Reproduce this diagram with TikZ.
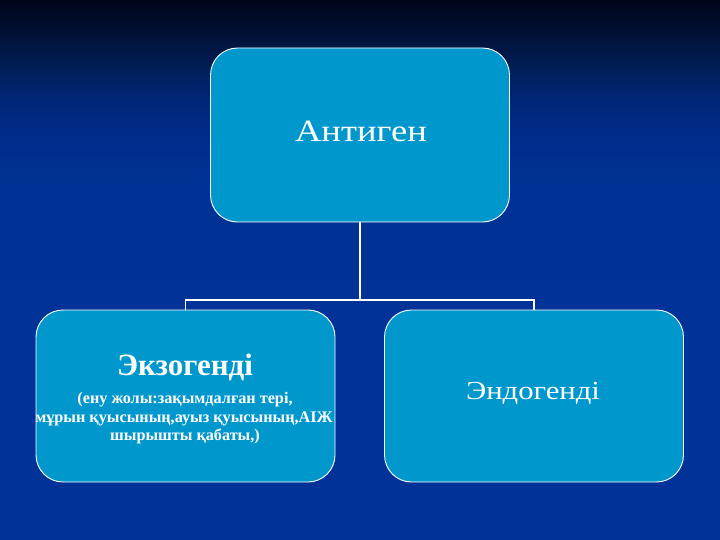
\documentclass[tikz,border=0pt]{standalone}
\usepackage{fontspec}
\setmainfont{Liberation Serif}
\newfontfamily\widefont[FakeStretch=1.18]{Liberation Serif}
\definecolor{boxfill}{RGB}{0,152,204}
\definecolor{bga}{RGB}{0,5,25}
\definecolor{bgb}{RGB}{0,15,50}
\definecolor{bgc}{RGB}{0,30,85}
\definecolor{bgd}{RGB}{0,38,120}
\definecolor{bge}{RGB}{0,45,140}
\definecolor{bgf}{RGB}{0,50,150}
\definecolor{bgg}{RGB}{0,50,152}
\pgfdeclareverticalshading{bgshade}{100bp}{color(0bp)=(bgg); color(25bp)=(bgg); color(57.4bp)=(bgf); color(62bp)=(bge); color(65.7bp)=(bgd); color(69bp)=(bgc); color(72.2bp)=(bgb); color(75bp)=(bga); color(100bp)=(bga)}
\begin{document}
\begin{tikzpicture}[x=1pt,y=-1pt,
  cbox/.style={draw=white, line width=0.9pt, fill=boxfill, rounded corners=27pt,
    minimum width=299pt, inner sep=0pt},
  label/.style={text=white, inner sep=0pt, anchor=base},
  link/.style={draw=white, line width=1.8pt}]
\useasboundingbox (0,0) rectangle (720,540);
\shade[shading=bgshade] (0,0) rectangle (720,540);
\node[cbox, minimum height=174pt] (top) at (360,135) {};
\node[cbox, minimum height=172pt] (exo) at (185.5,396) {};
\node[cbox, minimum height=172pt] (endo) at (534,396) {};
\node[label, font=\widefont\fontsize{31}{34}\selectfont] (toptxt) at (361,142) {Антиген};
\node[label, font=\widefont\fontsize{26}{30}\selectfont] (endotxt) at (533,399) {Эндогенді};
\node[label, font=\bfseries\fontsize{31}{34}\selectfont] (exotxt) at (185,375) {Экзогенді};
\node[label, font=\bfseries\fontsize{16.2}{18}\selectfont] (exo1) at (185,403) {(ену жолы:зақымдалған тері,};
\node[label, font=\bfseries\fontsize{16.2}{18}\selectfont] (exo2) at (184,422) {мұрын қуысының,ауыз қуысының,АІЖ};
\node[label, font=\bfseries\fontsize{16.2}{18}\selectfont] (exo3) at (185,440) {шырышты қабаты,)};
\coordinate (fork) at (360,300);
\draw[link] (top.south) -- (fork);
\draw[link] (fork) -| (exo.north);
\draw[link] (fork) -| (endo.north);
\end{tikzpicture}
\end{document}
